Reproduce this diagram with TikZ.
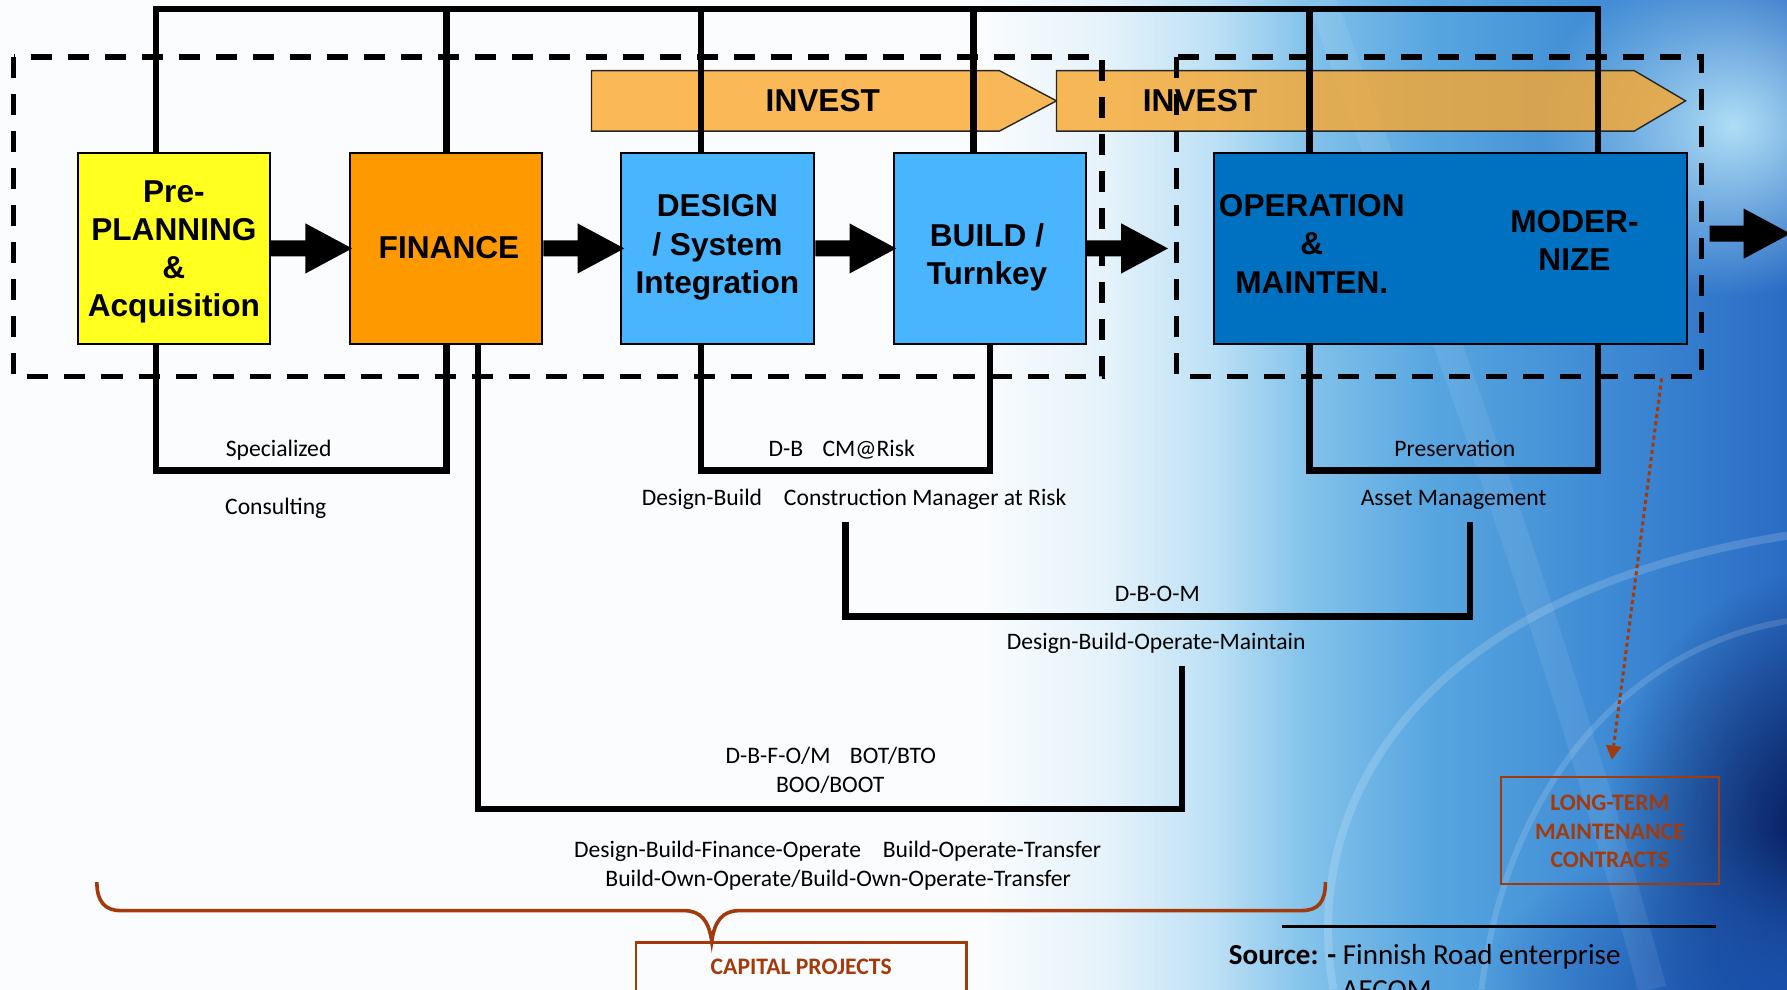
\documentclass[tikz,border=0pt]{standalone}
\usepackage{fontspec}
\setmainfont{Carlito}
\newfontfamily\hv{Liberation Sans}
\usetikzlibrary{arrows.meta,fadings,calc}
\definecolor{ppyellow}{RGB}{255,255,32}
\definecolor{finorange}{RGB}{255,153,0}
\definecolor{lblue}{RGB}{74,181,255}
\definecolor{opblue}{RGB}{0,112,192}
\definecolor{investc}{RGB}{250,168,46}
\definecolor{brn}{RGB}{163,58,12}
\definecolor{bgw}{RGB}{250,252,254}
\definecolor{bga}{RGB}{228,242,250}
\definecolor{bgb}{RGB}{188,224,245}
\definecolor{bgc}{RGB}{132,195,235}
\definecolor{bgd}{RGB}{88,166,224}
\definecolor{bge}{RGB}{62,138,212}
\definecolor{bgf}{RGB}{42,108,196}
\definecolor{bglight}{RGB}{175,222,246}
\definecolor{bgdark}{RGB}{4,22,85}
\definecolor{bgmid}{RGB}{25,80,170}
\pgfdeclarehorizontalshading{bgshade}{100bp}{color(0bp)=(bgw); color(25bp)=(bgw); color(52.5bp)=(bgw); color(56bp)=(bga); color(59bp)=(bgb); color(61.5bp)=(bgc); color(65bp)=(bgd); color(70bp)=(bge); color(75bp)=(bgf); color(100bp)=(bgf)}
\tikzfading[name=softcirc, inner color=transparent!0, outer color=transparent!100]
\tikzset{
  box/.style={draw=black, line width=1.1pt, inner sep=0pt, minimum height=3.36cm},
  boxtxt/.style={inner sep=0pt, align=center, font=\hv\bfseries\fontsize{15.8}{19.1}\selectfont},
  lnk/.style={line width=3.3pt, line join=miter},
  dsh/.style={line width=2.6pt, dash pattern=on 10.5pt off 8pt},
  lbl/.style={inner sep=0pt, text height=7.6pt, text depth=0pt, font=\fontsize{11.8}{14}\selectfont},
  brntxt/.style={inner sep=0pt, text=brn, align=center, font=\bfseries\fontsize{11.8}{14.2}\selectfont},
  investarrow/.style={fill=investc, fill opacity=.8, draw=black!85, line width=0.7pt},
  barrow/.pic={\fill[black] (0,-7) -- (30,-7) -- (30,-22) -- (71,0) -- (30,22) -- (30,7) -- (0,7) -- cycle;}
}
\begin{document}
\begin{tikzpicture}[x=0.02cm,y=-0.02cm]
\useasboundingbox (0,0) rectangle (1568,868);
\clip (0,0) rectangle (1568,868);
% background
\shade[shading=bgshade] (0,0) rectangle (1568,868);
\fill[bglight, path fading=softcirc] (1520,110) ellipse (170 and 150);
\fill[bgdark, path fading=softcirc] (1600,730) ellipse (190 and 230);
\fill[bgmid, path fading=softcirc] (1560,868) ellipse (260 and 140);
\draw[white, opacity=.16, line width=4pt] (1170,868) .. controls (1140,700) and (1250,520) .. (1568,470);
\draw[white, opacity=.14, line width=3pt] (1300,868) .. controls (1320,700) and (1420,570) .. (1568,545);
\draw[white, opacity=.08, line width=14pt] (1160,0) .. controls (1250,250) and (1350,500) .. (1450,868);

% INVEST arrows
\filldraw[investarrow] (519,62) -- (877,62) -- (927,88.5) -- (877,115) -- (519,115) -- cycle;
\filldraw[investarrow] (927,62) -- (1434,62) -- (1479,88.5) -- (1434,115) -- (927,115) -- cycle;
\node[boxtxt] (inv1) at (722,88.5) {INVEST};
\node[boxtxt] (inv2) at (1053,88.5) {INVEST};

% dashed frames
\draw[dsh] (12,50) rectangle (967,330.5);
\draw[dsh] (1032,50) rectangle (1493,330.5);

% boxes
\node[box, fill=ppyellow, minimum width=3.376cm] (pre) at (152.6,218) {};
\node[box, fill=finorange, minimum width=3.37cm] (fin) at (391.6,218) {};
\node[box, fill=lblue, minimum width=3.39cm] (des) at (629.7,218) {};
\node[box, fill=lblue, minimum width=3.37cm] (bld) at (868.6,218) {};
\node[box, fill=opblue, minimum width=8.3cm] (op) at (1272.5,218) {};

\node[boxtxt] (pret) at (152.6,221) {Pre-\\PLANNING\\\&\\Acquisition};
\node[boxtxt] (fint) at (394,217) {FINANCE};
\node[boxtxt] (dest) at (629.5,217) {DESIGN\\/ System\\Integration};
\node[boxtxt] (bldt) at (866,226) {BUILD /\\Turnkey};
\node[boxtxt] (opt) at (1151,214) {OPERATION\\\&\\MAINTEN.};
\node[boxtxt] (modt) at (1381.5,211) {MODER-\\NIZE};

% coordinates for connector lines
\coordinate (tl) at (137,8);
\coordinate (tr) at (1402,8);
\coordinate (xd) at (615,0);
\coordinate (xb) at (854,0);
\coordinate (xo) at (1149,0);
\coordinate (xf) at (419.5,0);
\coordinate (r1) at (0,413);
\coordinate (r2) at (0,710);
\coordinate (r3) at (0,541);
\coordinate (dbomL) at (742,458);
\coordinate (dbomR) at (1290,458);
\coordinate (dbfoR) at (1037,584);

% top frame
\draw[lnk] (pre.north -| tl) -- (tl) -- (tr) -- (op.north -| tr);
\draw[lnk] (fin.north) -- (fin.north |- tl);
\draw[lnk] (des.north -| xd) -- (tl -| xd);
\draw[lnk] (bld.north -| xb) -- (tl -| xb);
\draw[lnk] (op.north -| xo) -- (tl -| xo);

% lower brackets
\draw[lnk] (pre.south -| tl) -- (tl |- r1) -| (fin.south);
\draw[lnk] (des.south -| xd) -- (xd |- r1) -| (bld.south);
\draw[lnk] (op.south -| xo) -- (xo |- r1) -| (op.south -| tr);
\draw[lnk] (dbomL) -- (dbomL |- r3) -| (dbomR);
\draw[lnk] (fin.south -| xf) -- (xf |- r2) -| (dbfoR);

% block arrows
\pic at (pre.east) {barrow};
\pic at (fin.east) {barrow};
\pic at (des.east) {barrow};
\pic at (bld.east) {barrow};
\coordinate (outa) at (1500,205);
\pic at (outa) {barrow};

% labels
\node[lbl] (l1) at (244.5,394) {Specialized};
\node[lbl] (l2) at (242,445) {Consulting};
\node[lbl] (l3) at (738.5,394) {D-B\hspace{0.6em} CM@Risk};
\node[lbl] (l4) at (749.5,437) {Design-Build\hspace{0.7em} Construction Manager at Risk};
\node[lbl] (l5) at (1276.5,394) {Preservation};
\node[lbl] (l6) at (1275.5,437) {Asset Management};
\node[lbl] (l7) at (1015.5,521) {D-B-O-M};
\node[lbl] (l8) at (1014.5,563) {Design-Build-Operate-Maintain};
\node[lbl] (l9) at (729,663) {D-B-F-O/M\hspace{0.6em} BOT/BTO};
\node[lbl] (l10) at (728.5,689) {BOO/BOOT};
\node[lbl] (l11) at (735,746) {Design-Build-Finance-Operate\hspace{0.7em} Build-Operate-Transfer};
\node[lbl] (l12) at (735.5,771) {Build-Own-Operate/Build-Own-Operate-Transfer};

% long-term box and dotted arrow
\node[draw=brn, line width=1.1pt, minimum width=3.82cm, minimum height=1.88cm, inner sep=0pt] (ltm) at (1412.5,728.5) {};
\node[brntxt] (ltmt) at (1412.5,729.5) {LONG-TERM\\MAINTENANCE\\CONTRACTS};
\coordinate (dstart) at (1458,332);
\draw[brn, line width=1.5pt, dash pattern=on 2pt off 1.6pt, shorten >=8pt, -{Triangle[length=7pt,width=7.5pt]}] (dstart) -- (ltm.north);

% capital projects
\node[draw=brn, line width=1.1pt, minimum width=5.8cm, minimum height=1.5cm, anchor=north, inner sep=0pt] (cap) at (703,826) {};
\node[brntxt] (capt) at (703,848) {CAPITAL PROJECTS};
\coordinate (btip) at (624.5,826);
\draw[brn, line width=1.8pt] (85,774) .. controls (85,791) and (92,799) .. (106,799) -- (600,799) .. controls (615,799) and (622,808) .. (btip) .. controls (627,808) and (634,799) .. (649,799) -- (1142,799) .. controls (1157,799) and (1163,791) .. (1163,774);

% source
\draw[line width=1.1pt] (1125,813) -- (1506,813);
\node[inner sep=0pt, anchor=base west, font=\fontsize{14.5}{17.6}\selectfont] (src) at (1078,846) {\textbf{Source: -} Finnish Road enterprise};
\node[inner sep=0pt, anchor=base west, font=\fontsize{14.5}{17.6}\selectfont] (src2) at (1177,877) {AECOM};
\end{tikzpicture}
\end{document}
